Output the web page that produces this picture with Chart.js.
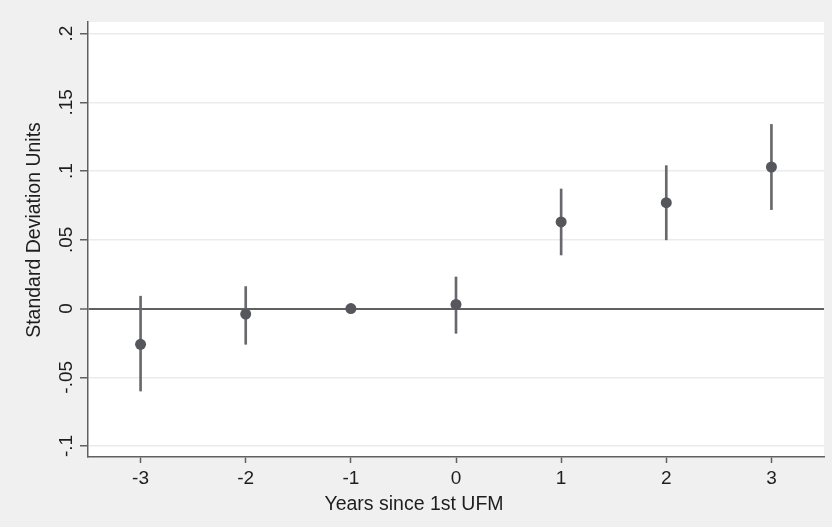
<!DOCTYPE html>
<html>
<head>
<meta charset="utf-8">
<script src="https://cdn.jsdelivr.net/npm/chart.js@4"></script>
<style>
  body { margin: 0; background: #eff0ef; }
  canvas { display: block; }
</style>
</head>
<body>
<canvas id="myChart" width="832" height="527"></canvas>
<script>
// event-study estimates
const years = [-3, -2, -1, 0, 1, 2, 3];
const estimate = [-0.026, -0.004, 0, 0.003, 0.063, 0.077, 0.103];
const ciLow = [-0.060, -0.026, null, -0.018, 0.039, 0.050, 0.072];
const ciHigh = [0.009, 0.016, null, 0.023, 0.087, 0.104, 0.134];

const yTicks = [-0.1, -0.05, 0, 0.05, 0.1, 0.15, 0.2];
const yTickLabels = ['-.1', '-.05', '0', '.05', '.1', '.15', '.2'];
const xTicks = [-3, -2, -1, 0, 1, 2, 3];
const xTickLabels = ['-3', '-2', '-1', '0', '1', '2', '3'];

const xTitle = 'Years since 1st UFM';
const yTitle = 'Standard Deviation Units';

const axisColor = '#606062';
const markColor = '#56575c';

Chart.defaults.font.family = '"Liberation Sans", Arial, sans-serif';
Chart.defaults.color = '#1e1e1e';

const pointData = years.map((x, i) => ({x: x, y: estimate[i]}));
const ciData = years
  .map((x, i) => ({x: x, y: [ciLow[i], ciHigh[i]]}))
  .filter(d => d.y[0] !== null);

const panel = {
  id: 'panel',
  beforeDraw(chart) {
    const c = chart.ctx, a = chart.chartArea;
    c.save();
    c.fillStyle = '#eff0ef';
    c.fillRect(0, 0, chart.width, chart.height);
    c.fillStyle = '#ffffff';
    c.fillRect(a.left, a.top, a.right - a.left, a.bottom - a.top);
    c.restore();
  },
  afterDraw(chart) {
    // Stata places the titles a bit off the plot centre
    const c = chart.ctx, a = chart.chartArea;
    c.save();
    c.fillStyle = '#1e1e1e';
    c.font = '19.5px "Liberation Sans", Arial, sans-serif';
    c.textAlign = 'center';
    c.textBaseline = 'middle';
    c.fillText(xTitle, a.left + 326, 505);
    c.translate(35, a.top + 208);
    c.rotate(-Math.PI / 2);
    c.fillText(yTitle, 0, 0);
    c.restore();
  }
};

new Chart(document.getElementById('myChart'), {
  type: 'line',
  data: {
    datasets: [{
      type: 'line',
      data: pointData,
      showLine: false,
      pointRadius: 5.5,
      pointHoverRadius: 5.5,
      pointBackgroundColor: markColor,
      pointBorderWidth: 0,
      order: 0
    },
    {
      type: 'bar',
      data: ciData,
      backgroundColor: '#69696d',
      borderWidth: 0,
      barThickness: 2,
      order: 1
    }]
  },
  options: {
    responsive: false,
    animation: false,
    events: [],
    layout: { padding: { top: 22, right: 8, left: 0, bottom: 0 } },
    plugins: {
      legend: { display: false },
      tooltip: { enabled: false }
    },
    scales: {
      x: {
        type: 'linear',
        min: -3.5,
        max: 3.5,
        offset: false,
        afterBuildTicks: s => { s.ticks = xTicks.map(v => ({value: v})); },
        afterFit: s => { s.height = 70; },
        ticks: {
          font: { size: 19 },
          padding: 4,
          maxRotation: 0,
          callback: (v) => xTickLabels[xTicks.indexOf(v)]
        },
        grid: {
          offset: false,
          drawOnChartArea: false,
          tickLength: 6,
          tickColor: axisColor,
          tickWidth: 1.5
        },
        border: { color: axisColor, width: 1.5 }
      },
      y: {
        type: 'linear',
        min: -0.108,
        max: 0.2085,
        afterBuildTicks: s => { s.ticks = yTicks.map(v => ({value: v})); },
        afterFit: s => { s.width = 88; },
        ticks: {
          font: { size: 19 },
          minRotation: 90,
          maxRotation: 90,
          crossAlign: 'center',
          padding: -3,
          callback: (v) => yTickLabels[yTicks.indexOf(v)]
        },
        grid: {
          color: c => (c.tick && c.tick.value === 0) ? axisColor : '#ebebeb',
          lineWidth: c => (c.tick && c.tick.value === 0) ? 2 : 1.5,
          tickLength: 8,
          tickColor: axisColor,
          tickWidth: 1.5
        },
        border: { color: axisColor, width: 1.5 }
      }
    }
  },
  plugins: [panel]
});
</script>
</body>
</html>
